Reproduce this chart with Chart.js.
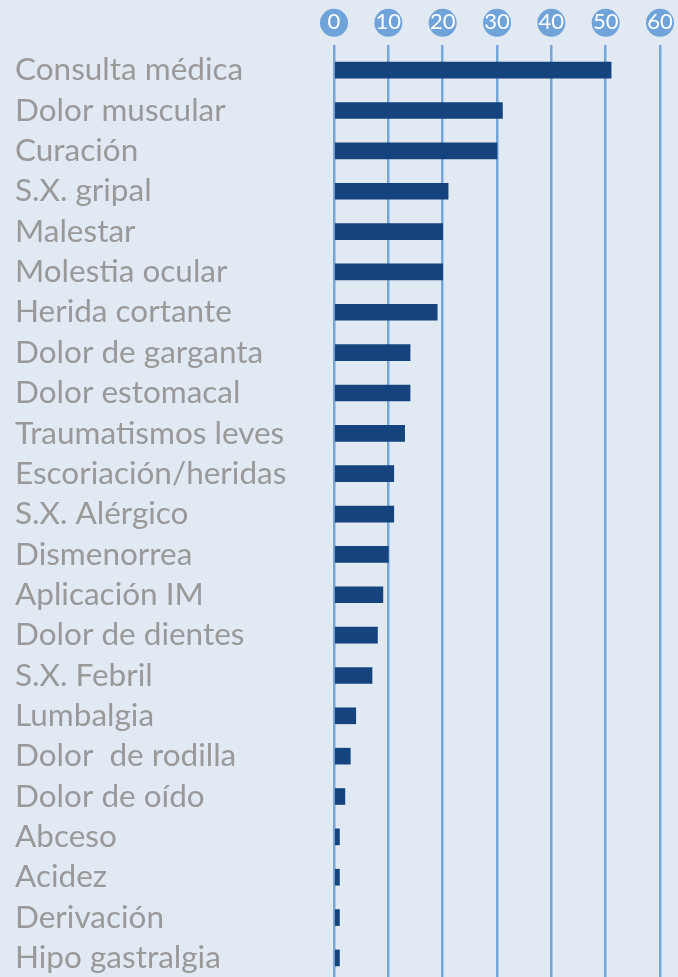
<!DOCTYPE html>
<html>
<head>
<meta charset="utf-8">
<script src="https://cdn.jsdelivr.net/npm/chart.js@4.4.1/dist/chart.umd.min.js"></script>
<style>
    html, body { margin: 0; padding: 0; background: #e1e9f3; overflow: hidden; }
    #wrap { width: 678px; height: 997px; position: relative; }
</style>
</head>
<body>
<div id="wrap"><canvas id="chart"></canvas></div>
<script>
// Datos
const categorias = [
    'Consulta médica', 'Dolor muscular', 'Curación', 'S.X. gripal', 'Malestar',
    'Molestia ocular', 'Herida cortante', 'Dolor de garganta', 'Dolor estomacal',
    'Traumatismos leves', 'Escoriación/heridas', 'S.X. Alérgico', 'Dismenorrea',
    'Aplicación IM', 'Dolor de dientes', 'S.X. Febril', 'Lumbalgia',
    'Dolor  de rodilla', 'Dolor de oído', 'Abceso', 'Acidez', 'Derivación',
    'Hipo gastralgia'
];
const casos = [51, 31, 30, 21, 20, 20, 19, 14, 14, 13, 11, 11, 10, 9, 8, 7, 4, 3, 2, 1, 1, 1, 1];
const ejeMin = 0;
const ejeMax = 60;
const ejePaso = 10;

const tickLen = 5;
const tickPad = 10;
const tickFont = 22;

// Círculos detrás de las etiquetas del eje superior
const circulosTicks = {
    id: 'circulosTicks',
    beforeDraw(chart) {
        const x = chart.scales.x;
        const c = chart.ctx;
        const cy = x.bottom - tickLen - tickPad - tickFont * 1.2 / 2 + 1;
        c.save();
        c.fillStyle = '#6fa3d9';
        x.ticks.forEach((t) => {
            c.beginPath();
            c.arc(x.getPixelForValue(t.value), cy, 14, 0, Math.PI * 2);
            c.fill();
        });
        c.restore();
    }
};

const ctx = document.getElementById('chart').getContext('2d');
const chart = new Chart(ctx, {
    type: 'bar',
    data: {
        labels: categorias,
        datasets: [{
            data: casos,
            backgroundColor: '#14437e',
            barThickness: 16
        }]
    },
    options: {
        indexAxis: 'y',
        responsive: true,
        maintainAspectRatio: false,
        animation: false,
        layout: { padding: { left: 15, right: 18, top: 0, bottom: 0 } },
        plugins: {
            legend: { display: false },
            tooltip: { enabled: false }
        },
        scales: {
            x: {
                position: 'top',
                min: ejeMin,
                max: ejeMax,
                afterFit: (scale) => {
                    scale.height = 50;
                    scale.paddingLeft = 0;
                    scale.paddingRight = 0;
                },
                ticks: {
                    stepSize: ejePaso,
                    color: '#ffffff',
                    padding: tickPad,
                    font: { family: 'Lato', size: tickFont }
                },
                grid: {
                    color: '#77a6dc',
                    lineWidth: 2.5,
                    tickLength: tickLen
                },
                border: { display: false }
            },
            y: {
                afterFit: (scale) => { scale.width = 319; },
                ticks: {
                    autoSkip: false,
                    crossAlign: 'far',
                    color: '#999999',
                    padding: 0,
                    font: { family: 'Lato', size: 31.5 }
                },
                grid: { display: false },
                border: { display: false }
            }
        }
    },
    plugins: [circulosTicks]
});
</script>
</body>
</html>
